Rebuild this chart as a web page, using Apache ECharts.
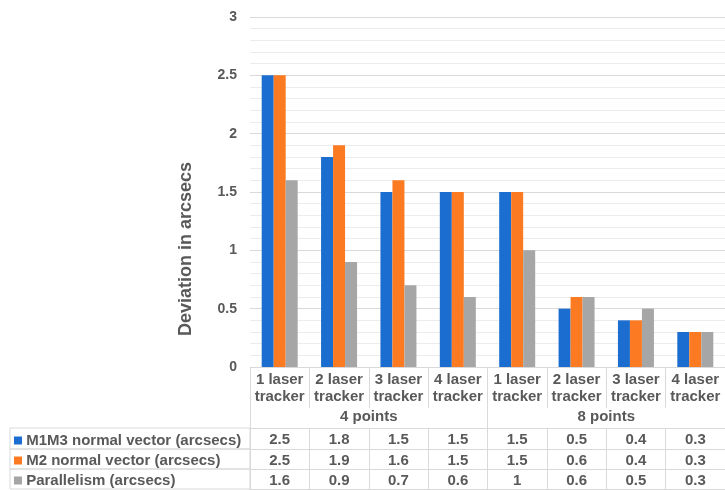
<!DOCTYPE html>
<html>
<head>
<meta charset="utf-8">
<script src="https://cdn.jsdelivr.net/npm/echarts@6/dist/echarts.min.js"></script>
<style>html,body{margin:0;padding:0;background:#fff}#c{width:725px;height:490px}</style>
</head>
<body>
<div id="c"></div>
<script>
const categories = ['1 laser\ntracker','2 laser\ntracker','3 laser\ntracker','4 laser\ntracker','1 laser\ntracker','2 laser\ntracker','3 laser\ntracker','4 laser\ntracker'];
const groups = ['4 points','8 points'];
const seriesNames = ['M1M3 normal vector (arcsecs)','M2 normal vector (arcsecs)','Parallelism (arcsecs)'];
const m1m3 = [2.5,1.8,1.5,1.5,1.5,0.5,0.4,0.3];
const m2 = [2.5,1.9,1.6,1.5,1.5,0.6,0.4,0.3];
const parallelism = [1.6,0.9,0.7,0.6,1,0.6,0.5,0.3];
const yTicks = [0,0.5,1,1.5,2,2.5,3];

const colors = ['#1c6dd0','#fb7a22','#a6a6a6'];
const values = [m1m3, m2, parallelism];
const FONT = 'Liberation Sans';
const TXT = '#595959';
const LINE = '#d9d9d9';
const rowOffsets = [61, 82, 102];

const chart = echarts.init(document.getElementById('c'));

const rowAxes = values.map((arr, k) => ({
  type: 'category', gridIndex: 0, position: 'bottom', offset: rowOffsets[k],
  data: categories,
  axisLine: { show: true, lineStyle: { color: LINE } },
  axisTick: { show: true, interval: 0, length: 21, lineStyle: { color: LINE } },
  axisLabel: { show: true, interval: 0, margin: 3, color: TXT, fontFamily: FONT, fontWeight: 'bold', fontSize: 15, lineHeight: 17,
    formatter: (v, i) => String(arr[i]) },
  name: '{sq|} ' + seriesNames[k],
  nameLocation: 'start', nameGap: 240,
  nameTruncate: { maxWidth: 236, ellipsis: '' },
  nameTextStyle: {
    align: 'left', verticalAlign: 'top', width: 236, height: 17, lineHeight: 17,
    padding: [k === 0 ? 4 : 3, 0, 0, 4], borderColor: LINE, borderWidth: 1,
    color: TXT, fontFamily: FONT, fontWeight: 'bold', fontSize: 15,
    rich: { sq: { width: 8, height: 8, backgroundColor: colors[k] } }
  }
}));

const option = {
  animation: false,
  backgroundColor: '#fff',
  grid: { left: 250, top: 17, width: 483, height: 350, containLabel: false },
  yAxis: {
    type: 'value', min: yTicks[0], max: yTicks[yTicks.length - 1], interval: 0.5,
    axisLine: { show: false }, axisTick: { show: false },
    splitLine: { show: true, lineStyle: { color: LINE } },
    minorTick: { show: false, splitNumber: 5 },
    minorSplitLine: { show: true, lineStyle: { color: '#ececec' } },
    axisLabel: { color: TXT, fontFamily: FONT, fontWeight: 'bold', fontSize: 14, margin: 13 },
    name: 'Deviation in arcsecs', nameLocation: 'middle', nameRotate: 90, nameGap: 55,
    nameTextStyle: { color: TXT, fontFamily: FONT, fontWeight: 'bold', fontSize: 18, padding: [0, 114, 0, 0] }
  },
  xAxis: [
    {
      type: 'category', data: categories, position: 'bottom',
      axisLine: { show: true, lineStyle: { color: LINE } },
      axisTick: { show: true, interval: 0, length: 41, lineStyle: { color: LINE } },
      axisLabel: { interval: 0, margin: 4, color: TXT, fontFamily: FONT, fontWeight: 'bold', fontSize: 15, lineHeight: 17 }
    },
    {
      type: 'category', data: groups, position: 'bottom', offset: 41,
      axisLine: { show: false },
      axisTick: { show: true, interval: 0, length: 20, lineStyle: { color: LINE } },
      axisLabel: { interval: 0, margin: 0, color: TXT, fontFamily: FONT, fontWeight: 'bold', fontSize: 15, lineHeight: 17 }
    },
    ...rowAxes,
    {
      type: 'category', data: categories, position: 'bottom', offset: 122,
      axisLine: { show: true, lineStyle: { color: LINE } },
      axisTick: { show: false }, axisLabel: { show: false }
    }
  ],
  series: values.map((arr, k) => ({
    type: 'bar', name: seriesNames[k], data: arr, xAxisIndex: 0,
    barWidth: 12, barGap: '0%',
    itemStyle: { color: colors[k] }
  }))
};
chart.setOption(option);
</script>
</body>
</html>
